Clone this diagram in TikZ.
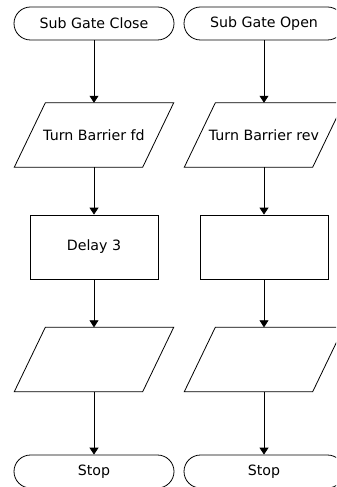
\documentclass[tikz,border=0pt]{standalone}
\usepackage{fontspec}
\setmainfont{DejaVu Sans}
\usetikzlibrary{arrows.meta,calc}
\begin{document}
\begin{tikzpicture}[x=1bp,y=-1bp,
  every node/.style={font=\fontsize{14.2bp}{17bp}\selectfont, inner sep=0pt},
  term/.style={draw, line width=0.8bp, rounded corners=16.5bp, minimum width=160bp, minimum height=33bp},
  procbox/.style={draw, line width=0.8bp, minimum width=128bp, minimum height=64bp},
  iobox/.style={minimum width=159bp, minimum height=64bp},
  flow/.style={line width=0.8bp, -{Triangle[width=9bp,length=7bp]}},
  ioline/.style={line width=0.8bp}]
\useasboundingbox (0,0) rectangle (336,487);
\clip (0,0) rectangle (336,487);
\foreach \c/\cx/\ta/\tb/\tc in {L/94/Sub Gate Close/Turn Barrier fd/Delay 3, R/264/Sub Gate Open/Turn Barrier rev/} {
  \node[term] (t\c) at (\cx,23.5) {\ta};
  \node[iobox] (p\c) at (\cx,135) {\tb};
  \draw[ioline] ($(p\c.north west)+(31,0)$) -- (p\c.north east) -- ($(p\c.south east)-(31,0)$) -- (p\c.south west) -- cycle;
  \node[procbox] (r\c) at (\cx,247) {\tc};
  \node[iobox] (q\c) at (\cx,359.5) {};
  \draw[ioline] ($(q\c.north west)+(31,0)$) -- (q\c.north east) -- ($(q\c.south east)-(31,0)$) -- (q\c.south west) -- cycle;
  \node[term] (s\c) at (\cx,471.5) {Stop};
  \draw[flow] (t\c) -- (p\c);
  \draw[flow] (p\c) -- (r\c);
  \draw[flow] (r\c) -- (q\c);
  \draw[flow] (q\c) -- (s\c);
}
\end{tikzpicture}
\end{document}
